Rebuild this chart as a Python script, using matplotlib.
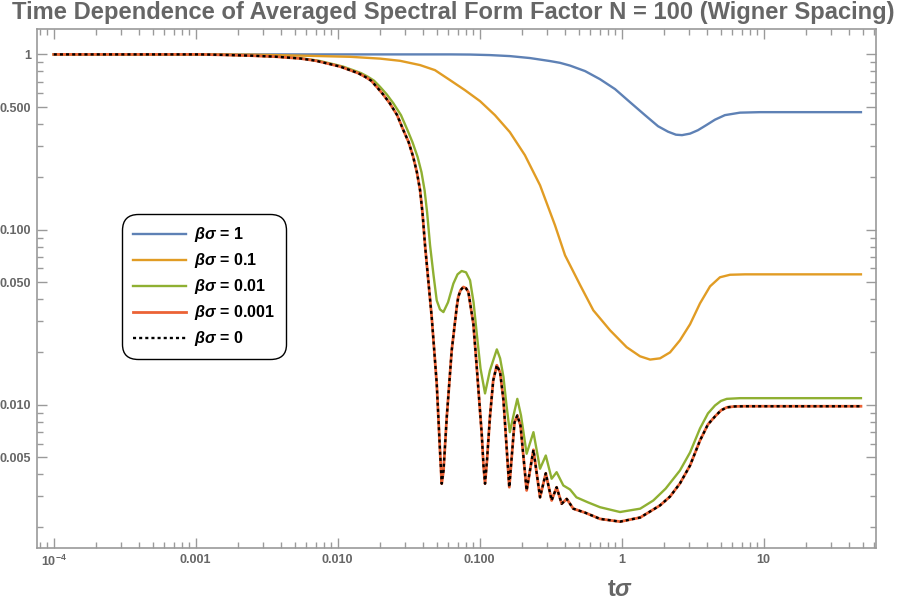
import matplotlib
matplotlib.use("Agg")
import matplotlib.pyplot as plt
from matplotlib.ticker import FixedLocator, NullFormatter

plt.rcParams['font.family'] = ['Liberation Sans', 'DejaVu Sans']
plt.rcParams['mathtext.fontset'] = 'custom'
plt.rcParams['mathtext.rm'] = 'Liberation Sans:bold'
plt.rcParams['mathtext.bf'] = 'Liberation Sans:bold'
plt.rcParams['mathtext.it'] = 'Liberation Sans:bold:italic'
plt.rcParams['mathtext.bfit'] = 'Liberation Sans:bold:italic'

# ---------------- data ----------------
t_blue = [1e-4, 0.0618, 0.0855, 0.118, 0.163, 0.226, 0.313, 0.368, 0.433,
          0.552, 0.703, 0.897, 1.143, 1.459, 1.803, 2.12, 2.41, 2.66, 3.03,
          3.44, 3.93, 4.54, 5.33, 6.81, 9.42, 48.4]
v_blue = [1.0, 1.0, 0.998, 0.991, 0.978, 0.953, 0.916, 0.895, 0.863,
          0.803, 0.722, 0.634, 0.534, 0.45, 0.389, 0.362, 0.348, 0.346, 0.353,
          0.369, 0.394, 0.424, 0.45, 0.465, 0.468, 0.468]

t_orange = [1e-4, 0.00241, 0.00543, 0.0122, 0.0199, 0.0275, 0.038, 0.0484,
            0.0618, 0.0787, 0.1005, 0.128, 0.163, 0.208, 0.266, 0.339, 0.399,
            0.511, 0.631, 0.828, 1.084, 1.346, 1.585, 1.862, 2.19, 2.57, 3.03,
            3.56, 4.19, 4.92, 5.79, 7.38, 48.4]
v_orange = [1.0, 0.997, 0.984, 0.969, 0.946, 0.919, 0.869, 0.813,
            0.713, 0.625, 0.541, 0.45, 0.36, 0.266, 0.179, 0.1058, 0.0713,
            0.048, 0.0346, 0.0266, 0.0213, 0.0189, 0.0181, 0.0184, 0.0199, 0.0233, 0.0288,
            0.0379, 0.0474, 0.0534, 0.0552, 0.0555, 0.0555]

t_green = [1e-4, 0.001125, 0.00169, 0.00253, 0.0038, 0.00561, 0.00727, 0.00927,
           0.0109, 0.0128, 0.0146, 0.01634, 0.018, 0.01986, 0.02207, 0.0247,
           0.0279, 0.031, 0.0336, 0.0365, 0.0389, 0.0409, 0.0426, 0.0447,
           0.0473, 0.0498, 0.0525, 0.0555, 0.0598, 0.0652, 0.0698, 0.0746,
           0.0801, 0.0855, 0.0905, 0.0953, 0.1013, 0.109, 0.118, 0.132, 0.1392,
           0.147, 0.1544, 0.163, 0.173, 0.184, 0.1953, 0.214, 0.239, 0.266,
           0.292, 0.321, 0.348, 0.388, 0.433, 0.48, 0.579, 0.703, 0.973, 1.35,
           1.67, 2.04, 2.57, 3.03, 3.56, 4.05, 4.54, 5.0, 5.5, 6.81, 48.4]
v_green = [1.0, 0.997, 0.9934, 0.9843, 0.9715, 0.9487, 0.9216, 0.880,
           0.8518, 0.8132, 0.782, 0.7447, 0.7083, 0.6529, 0.593, 0.5248,
           0.4498, 0.3694, 0.3154, 0.26, 0.2125, 0.1677, 0.1256, 0.0813,
           0.0548, 0.0394, 0.035, 0.0338, 0.0384, 0.0491, 0.0555, 0.058,
           0.057, 0.0513, 0.0384, 0.0255, 0.0161, 0.0116, 0.0157, 0.0207, 0.0184,
           0.0144, 0.0099, 0.00697, 0.00869, 0.0108, 0.00869, 0.00525, 0.00697, 0.00431,
           0.00513, 0.00378, 0.00412, 0.00346, 0.00328, 0.00296, 0.00277, 0.0026, 0.00244, 0.00255,
           0.00284, 0.00332, 0.00421, 0.00534, 0.00732, 0.00892, 0.0099, 0.01051, 0.0108, 0.0109, 0.0109]

t_zero = [1e-4, 0.00107, 0.00161, 0.00241, 0.00361, 0.00543, 0.00692, 0.00885,
          0.0104, 0.0122, 0.0139, 0.0156, 0.0172, 0.0188, 0.0208, 0.0233,
          0.0262, 0.029, 0.0316, 0.034, 0.0361, 0.038, 0.0395, 0.0412, 0.0459,
          0.0498, 0.0525, 0.054, 0.0556, 0.0586, 0.0635, 0.0689, 0.0706,
          0.0732, 0.0767, 0.0801, 0.0832, 0.0902, 0.0953, 0.1033, 0.1063,
          0.109, 0.1125, 0.118, 0.1245, 0.132, 0.1392, 0.147, 0.1615, 0.1758,
          0.184, 0.1937, 0.214, 0.239, 0.266, 0.292, 0.321, 0.348, 0.378, 0.41,
          0.456, 0.552, 0.703, 0.973, 1.35, 1.86, 2.19, 2.57, 3.03, 3.56, 4.05,
          4.54, 5.0, 5.5, 6.28, 7.38, 48.4]
v_zero = [1.0, 1.0, 0.993, 0.984, 0.971, 0.948, 0.922, 0.88,
          0.852, 0.813, 0.782, 0.745, 0.708, 0.653, 0.593, 0.525,
          0.45, 0.369, 0.315, 0.26, 0.2125, 0.168, 0.1256, 0.0813, 0.0317,
          0.0132, 0.00548, 0.00354, 0.00421, 0.00849, 0.0204, 0.0361, 0.0412,
          0.045, 0.047, 0.0462, 0.044, 0.029, 0.0164, 0.00683, 0.0045,
          0.00354, 0.0048, 0.00849, 0.01377, 0.0168, 0.0153, 0.0106, 0.00338, 0.00792,
          0.00868, 0.00762, 0.00324, 0.00553, 0.00296, 0.00406, 0.00284, 0.00338, 0.00272, 0.0029,
          0.00255, 0.00242, 0.00223, 0.00215, 0.00227, 0.00266, 0.00299, 0.00355, 0.0045, 0.00625, 0.00772,
          0.00857, 0.00928, 0.00966, 0.00978, 0.0098, 0.0098]

t_red = t_zero
v_red = v_zero

labels = [r"$\mathbfit{\beta\sigma}$ = 1", r"$\mathbfit{\beta\sigma}$ = 0.1",
          r"$\mathbfit{\beta\sigma}$ = 0.01", r"$\mathbfit{\beta\sigma}$ = 0.001",
          r"$\mathbfit{\beta\sigma}$ = 0"]

x_major = [1e-4, 1e-3, 1e-2, 1e-1, 1, 10]
x_major_labels = [r"10$^{-4}$", "0.001", "0.010", "0.100", "1", "10"]
y_major = [0.005, 0.01, 0.05, 0.1, 0.5, 1]
y_major_labels = ["0.005", "0.010", "0.050", "0.100", "0.500", "1"]

title = "Time Dependence of Averaged Spectral Form Factor N = 100 (Wigner Spacing)"
xlabel = r"t$\mathbfit{\sigma}$"

# ---------------- styling ----------------
c_blue = "#5E81B5"
c_orange = "#E19C24"
c_green = "#8FB032"
c_red = "#EB6235"
gray = "#9A9A9A"
txtgray = "#666666"

fig = plt.figure(figsize=(9.07, 6.06), dpi=100)
ax = fig.add_axes([37/907, 1-548/606, (876-37)/907, (548-29)/606])

lw = 1.7
ax.plot(t_blue, v_blue, color=c_blue, lw=lw, label=labels[0])
ax.plot(t_orange, v_orange, color=c_orange, lw=lw, label=labels[1])
ax.plot(t_green, v_green, color=c_green, lw=lw, label=labels[2])
ax.plot(t_red, v_red, color=c_red, lw=lw + 0.3, label=labels[3])
ax.plot(t_zero, v_zero, color="black", lw=lw, linestyle=(0, (1.3, 1.3)), label=labels[4])

ax.set_xscale('log')
ax.set_yscale('log')
ax.set_xlim(10**-4.118, 10**1.791)
ax.set_ylim(10**-2.818, 10**0.145)

# ticks
xminor = []
for d in [1e-5, 1e-4, 1e-3, 1e-2, 1e-1, 1, 10]:
    for k in range(2, 10):
        xminor.append(k * d)
yminor = []
for d in [1e-3, 1e-2, 1e-1, 1]:
    for k in range(2, 10):
        if k * d not in y_major:
            yminor.append(k * d)

ax.xaxis.set_major_locator(FixedLocator(x_major))
ax.xaxis.set_minor_locator(FixedLocator(xminor))
ax.yaxis.set_major_locator(FixedLocator(y_major))
ax.yaxis.set_minor_locator(FixedLocator(yminor))
ax.set_xticklabels(x_major_labels)
ax.set_yticklabels(y_major_labels)
ax.xaxis.set_minor_formatter(NullFormatter())
ax.yaxis.set_minor_formatter(NullFormatter())

ax.tick_params(which='both', direction='in', top=True, right=True, color=gray, width=1)
ax.tick_params(which='major', length=7)
ax.tick_params(which='minor', length=4)
ax.tick_params(axis='both', which='major', labelsize=9, labelcolor=txtgray, pad=4)
for lab in ax.get_xticklabels() + ax.get_yticklabels():
    lab.set_fontweight('bold')

for s in ax.spines.values():
    s.set_color(gray)
    s.set_linewidth(1.2)

fig.text(0.5, 1 - 13/606, title, ha='center', va='center', fontsize=17.1,
         fontweight='bold', color=txtgray)
fig.text(620/907, 1 - 590/606, xlabel, ha='center', va='center', fontsize=17,
         fontweight='bold', color=txtgray)

leg = ax.legend(loc='upper left', bbox_to_anchor=((122-37)/839, (548-214)/519),
                fontsize=11.5, handlelength=3.3, handletextpad=0.5,
                labelspacing=0.44, borderpad=0.7, borderaxespad=0,
                frameon=True, fancybox=True,
                edgecolor='black', framealpha=1)
leg.get_frame().set_linewidth(1.0)
leg.get_frame().set_boxstyle('round', pad=0, rounding_size=1.0)
for txt in leg.get_texts():
    txt.set_fontweight('bold')

fig.savefig("out.png", dpi=100)
